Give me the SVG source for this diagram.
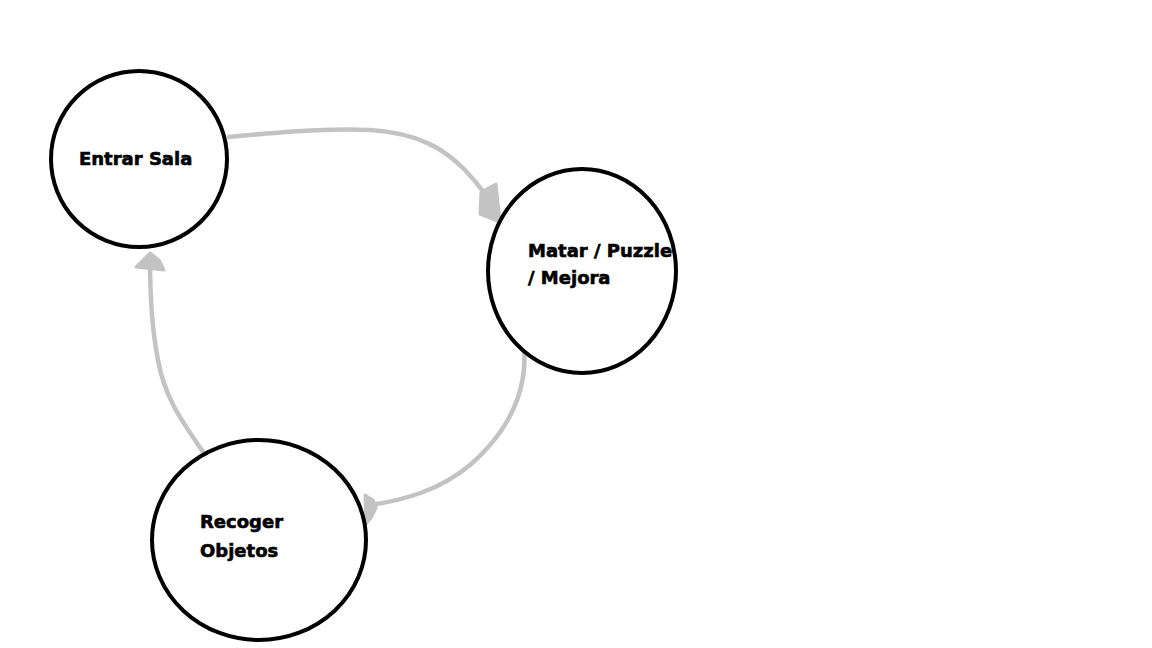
<svg xmlns="http://www.w3.org/2000/svg" width="1152" height="648" viewBox="0 0 1152 648">
<style>
.node{fill:#fff;stroke:#000;stroke-width:4}
.lbl{font-family:"DejaVu Sans",Verdana,sans-serif;font-weight:bold;font-size:18px;fill:#000;stroke:#000;stroke-width:0.6}
.con{fill:none;stroke:#c3c3c3;stroke-width:4.5;stroke-linecap:round;stroke-linejoin:round}
.head{fill:#c3c3c3;stroke:#c3c3c3;stroke-width:3;stroke-linejoin:round}
</style>
<rect width="1152" height="648" fill="#fff"/>
<g id="connectors">
<path class="con" d="M229,137 C270,133 320,128 370,130 C420,133 445,150 465,170 C480,186 490,200 497,212"/>
<polygon class="head" points="481,192 496,184 500,222 480,214"/>
<path class="con" d="M524,345 C528,390 510,430 470,465 C440,490 405,500 370,505"/>
<polygon class="head" points="365,495 373,500 376,508 371,518 366,524"/>
<path class="con" d="M203,452 C185,425 165,400 158,360 C152,330 150,300 150,258"/>
<polygon class="head" points="150,253 142,261 136,267 164,270 159,260"/>
</g>
<g id="node-entrar">
<ellipse class="node" cx="139" cy="159" rx="88" ry="88"/>
<text class="lbl" x="79" y="165">Entrar Sala</text>
</g>
<g id="node-matar">
<ellipse class="node" cx="582" cy="271" rx="94" ry="102"/>
<text class="lbl" x="528" y="257">Matar / Puzzle</text>
<text class="lbl" x="528" y="284">/ Mejora</text>
</g>
<g id="node-recoger">
<ellipse class="node" cx="259" cy="540" rx="107" ry="100"/>
<text class="lbl" x="200" y="528">Recoger</text>
<text class="lbl" x="200" y="557">Objetos</text>
</g>
</svg>
